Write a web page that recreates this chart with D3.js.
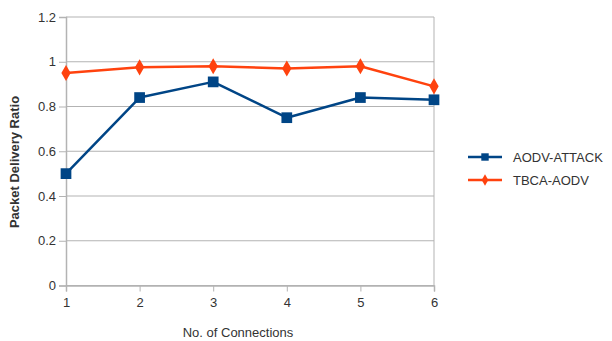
<!DOCTYPE html>
<html>
<head>
<meta charset="utf-8">
<script src="https://cdn.jsdelivr.net/npm/d3@7"></script>
<style>
  html, body { margin: 0; padding: 0; background: #fff; }
  svg { display: block; font-family: "Liberation Sans", Arial, sans-serif; }
</style>
</head>
<body>
<svg id="chart" width="612" height="341"></svg>
<script>
// Number of connections on the x axis
const connections = [1, 2, 3, 4, 5, 6];
// Packet delivery ratio per protocol
const aodvAttack = [0.50, 0.84, 0.91, 0.75, 0.84, 0.83];
const tbcaAodv = [0.95, 0.975, 0.98, 0.97, 0.98, 0.89];
const yTicks = [0, 0.2, 0.4, 0.6, 0.8, 1, 1.2];
const seriesNames = ["AODV-ATTACK", "TBCA-AODV"];

const svg = d3.select("#chart");
const plot = { left: 66, right: 434, top: 17, bottom: 285.5 };

const x = d3.scaleLinear().domain([1, 6]).range([plot.left, plot.right]);
const y = d3.scaleLinear().domain([0, 1.2]).range([plot.bottom, plot.top]);

const gridColor = "#b3b3b3";
const textColor = "#333";

// horizontal gridlines
svg.append("g").selectAll("line").data(yTicks).join("line")
  .attr("x1", plot.left).attr("x2", plot.right)
  .attr("y1", d => y(d)).attr("y2", d => y(d))
  .attr("stroke", gridColor).attr("stroke-width", 1);

// right border of the plot area
svg.append("line")
  .attr("x1", plot.right).attr("x2", plot.right)
  .attr("y1", plot.top).attr("y2", plot.bottom)
  .attr("stroke", gridColor).attr("stroke-width", 1);

// y axis
const yAxis = svg.append("g")
  .attr("transform", `translate(${plot.left},0)`)
  .call(d3.axisLeft(y).tickValues(yTicks).tickSize(7).tickPadding(3)
    .tickFormat(d => d3.format("~g")(d)));
yAxis.select(".domain").attr("stroke", gridColor).attr("stroke-width", 1.5);
yAxis.selectAll(".tick line").attr("stroke", gridColor);
yAxis.selectAll("text").attr("fill", textColor).attr("font-size", 13)
  .attr("font-family", "Liberation Sans, Arial, sans-serif");

// x axis
const xAxis = svg.append("g")
  .attr("transform", `translate(0,${plot.bottom})`)
  .call(d3.axisBottom(x).tickValues(connections).tickSize(6).tickPadding(6)
    .tickFormat(d3.format("d")));
xAxis.select(".domain").attr("stroke", gridColor).attr("stroke-width", 1.5);
xAxis.selectAll(".tick line").attr("stroke", gridColor);
xAxis.selectAll("text").attr("fill", textColor).attr("font-size", 13)
  .attr("font-family", "Liberation Sans, Arial, sans-serif");

// axis titles
svg.append("text")
  .attr("x", 238).attr("y", 337)
  .attr("text-anchor", "middle")
  .attr("font-size", 13).attr("fill", textColor)
  .text("No. of Connections");

svg.append("text")
  .attr("transform", "translate(19,162) rotate(-90)")
  .attr("text-anchor", "middle")
  .attr("font-size", 13).attr("font-weight", "bold").attr("fill", textColor)
  .text("Packet Delivery Ratio");

const series = [
  { name: seriesNames[0], values: aodvAttack, color: "#004586", marker: "square" },
  { name: seriesNames[1], values: tbcaAodv, color: "#ff420e", marker: "diamond" }
];

const line = d3.line().x((d, i) => x(connections[i])).y(d => y(d));

const symbolFor = m => m === "square"
  ? d3.symbol().type(d3.symbolSquare).size(115)
  : d3.symbol().type(d3.symbolDiamond).size(75);

series.forEach(s => {
  svg.append("path")
    .datum(s.values)
    .attr("d", line)
    .attr("fill", "none")
    .attr("stroke", s.color)
    .attr("stroke-width", 2.5)
    .attr("stroke-linejoin", "round");

  svg.append("g").selectAll("path").data(s.values).join("path")
    .attr("transform", (d, i) => `translate(${x(connections[i])},${y(d)})`)
    .attr("d", symbolFor(s.marker))
    .attr("fill", s.color);
});

// legend
const legend = svg.append("g");
series.forEach((s, i) => {
  const ly = 157 + i * 23;
  legend.append("line")
    .attr("x1", 468).attr("x2", 502)
    .attr("y1", ly).attr("y2", ly)
    .attr("stroke", s.color).attr("stroke-width", 2.5);
  legend.append("path")
    .attr("transform", `translate(485,${ly})`)
    .attr("d", s.marker === "square"
      ? d3.symbol().type(d3.symbolSquare).size(55)()
      : d3.symbol().type(d3.symbolDiamond).size(38)())
    .attr("fill", s.color);
  legend.append("text")
    .attr("x", 513).attr("y", ly)
    .attr("dy", "0.35em")
    .attr("font-size", 13).attr("fill", textColor)
    .text(s.name);
});
</script>
</body>
</html>
